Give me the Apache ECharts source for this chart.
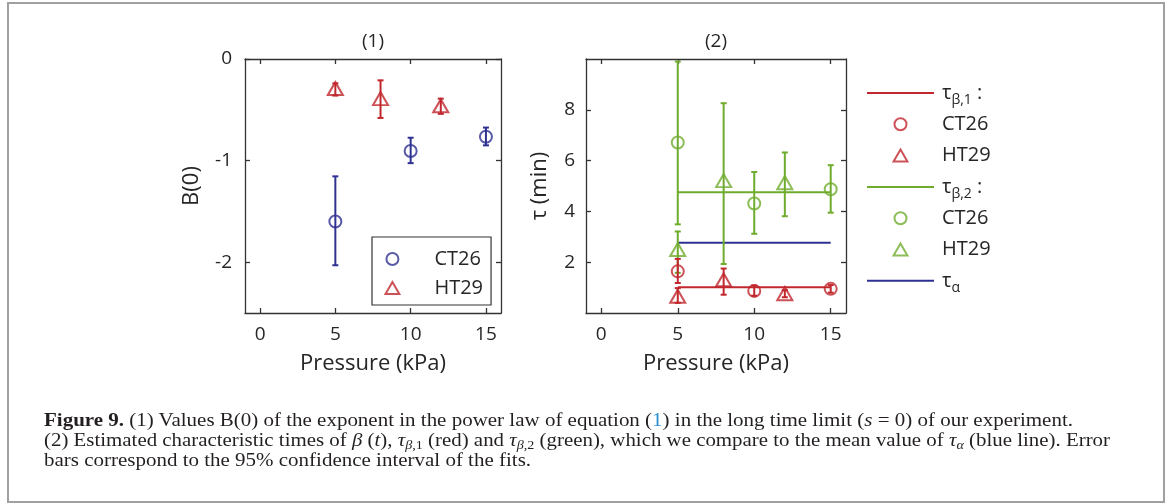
<!DOCTYPE html>
<html><head><meta charset="utf-8">
<script src="https://cdn.jsdelivr.net/npm/echarts@6/dist/echarts.min.js"></script>
<style>
html,body{margin:0;padding:0;background:#fff;width:1171px;height:504px;overflow:hidden;}
#chart{position:absolute;left:0;top:0;width:1171px;height:504px;}
#frame{position:absolute;left:7px;top:2px;width:1158px;height:501px;border:2px solid #a0a0a0;box-sizing:border-box;pointer-events:none;}
.cap{position:absolute;left:44px;white-space:nowrap;font-family:"Liberation Serif","Times New Roman",serif;font-size:18.5px;line-height:20px;color:#231f20;transform-origin:0 0;display:inline-block;}
.cap sub{font-size:12.5px;vertical-align:-3px;line-height:0}
.cap .lnk{color:#2a8fcf}
</style></head>
<body>
<div id="chart"></div>
<div id="frame"></div>
<div class="cap" id="l1" style="top:410px"><b>Figure 9.</b> (1) Values B(0) of the exponent in the power law of equation (<span class="lnk">1</span>) in the long time limit (<i>s</i> = 0) of our experiment.</div>
<div class="cap" id="l2" style="top:430px">(2) Estimated characteristic times of <i>β</i> (<i>t</i>), <i>τ</i><sub><i>β</i>,1</sub> (red) and <i>τ</i><sub><i>β</i>,2</sub> (green), which we compare to the mean value of <i>τ</i><sub><i>α</i></sub> (blue line). Error</div>
<div class="cap" id="l3" style="top:450px">bars correspond to the 95% confidence interval of the fits.</div>
<script>
// ---- data ----
const pressureCT26 = [5, 10, 15];
const pressureHT29 = [5, 8, 12];
const b0CT26 = [-1.60, -0.905, -0.765];
const b0CT26Low = [-2.03, -1.025, -0.85];
const b0CT26High = [-1.155, -0.775, -0.675];
const b0HT29 = [-0.29, -0.39, -0.46];
const b0HT29Low = [-0.36, -0.58, -0.54];
const b0HT29High = [-0.24, -0.21, -0.39];

const tauB1CT26 = [1.64, 0.87, 0.95];
const tauB1CT26Low = [1.18, 0.68, 0.80];
const tauB1CT26High = [2.13, 1.08, 1.10];
const tauB1HT29 = [0.66, 1.31, 0.76];
const tauB1HT29Low = [0.40, 0.72, 0.62];
const tauB1HT29High = [0.98, 1.75, 0.90];
const tauB2CT26 = [6.71, 4.31, 4.87];
const tauB2CT26Low = [3.49, 3.12, 3.95];
const tauB2CT26High = [9.90, 5.55, 5.82];
const tauB2HT29 = [2.50, 5.21, 5.13];
const tauB2HT29Low = [1.58, 1.93, 3.81];
const tauB2HT29High = [3.21, 8.26, 6.32];
const fitRange = [5, 15];
const tauB1Mean = 1.01;
const tauB2Mean = 4.75;
const tauAlphaMean = 2.77;

const xTicks = [0, 5, 10, 15];
const b0Ticks = [-2, -1, 0];
const tauTicks = [2, 4, 6, 8];

// ---- style ----
const RED = '#c1272d', GREEN = '#6fac2e', BLUE = '#2e3192';
const TXT = '#262626', AX = '#333333';
const FONT = '"Open Sans", "Noto Sans", sans-serif';
const LINE_ICON = 'path://M0,0 L67,0 L67,2 L0,2 Z';
const TRI_ICON = 'path://M0,13 L7.5,0 L15,13 Z';

const pts = (xs, ys) => xs.map((x, i) => [x, ys[i]]);
const bars = (xs, lo, hi) => xs.map((x, i) => [x, lo[i], hi[i]]);

function errSeries(xi, yi, data, color) {
  return {
    type: 'custom', xAxisIndex: xi, yAxisIndex: yi, data, silent: true, z: 2,
    renderItem(params, api) {
      const x = api.value(0);
      const a = api.coord([x, api.value(2)]);
      const b = api.coord([x, api.value(1)]);
      const w = 3;
      const st = { stroke: color, lineWidth: 2 };
      return { type: 'group', children: [
        { type: 'line', shape: { x1: a[0], y1: a[1], x2: b[0], y2: b[1] }, style: st },
        { type: 'line', shape: { x1: a[0] - w, y1: a[1], x2: a[0] + w, y2: a[1] }, style: st },
        { type: 'line', shape: { x1: b[0] - w, y1: b[1], x2: b[0] + w, y2: b[1] }, style: st }
      ]};
    }
  };
}
function scatter(name, xi, yi, data, color, symbol) {
  return {
    name, type: 'scatter', xAxisIndex: xi, yAxisIndex: yi, data,
    symbol: symbol === 'circle' ? 'circle' : TRI_ICON,
    symbolSize: symbol === 'circle' ? 12 : [15, 13],
    itemStyle: { color: 'none', borderColor: color, borderWidth: 2 },
    z: 3, silent: true
  };
}
function fit(name, value, color) {
  return {
    name, type: 'line', xAxisIndex: 2, yAxisIndex: 2,
    data: fitRange.map(x => [x, value]), symbol: 'none',
    lineStyle: { color, width: 2 }, itemStyle: { color }, z: 1, silent: true
  };
}
const axLine = { show: true, onZero: false, lineStyle: { color: AX, width: 1.3 } };
function tick(vals) { return { show: true, inside: true, length: 5, customValues: vals, lineStyle: { color: AX, width: 1.3 } }; }

function xBottom(grid) {
  return { type: 'value', gridIndex: grid, position: 'bottom', min: -1, max: 16,
    axisLine: axLine, axisTick: tick(xTicks), splitLine: { show: false },
    axisLabel: { customValues: xTicks, fontSize: 19, color: TXT, fontFamily: FONT, margin: 12 },
    name: 'Pressure (kPa)', nameLocation: 'middle', nameGap: 40,
    nameTextStyle: { fontSize: 22, color: TXT, fontFamily: FONT } };
}
function xTop(grid, title) {
  return { type: 'value', gridIndex: grid, position: 'top', min: -1, max: 16,
    axisLine: axLine, axisTick: tick(xTicks), splitLine: { show: false },
    axisLabel: { show: false },
    name: title, nameLocation: 'middle', nameGap: 8,
    nameTextStyle: { fontSize: 19, color: TXT, fontFamily: FONT } };
}
function yLeft(grid, min, max, ticks, name, gap, margin) {
  return { type: 'value', gridIndex: grid, position: 'left', min, max,
    axisLine: axLine, axisTick: tick(ticks), splitLine: { show: false },
    axisLabel: { customValues: ticks, fontSize: 19, color: TXT, fontFamily: FONT, margin },
    name, nameLocation: 'middle', nameGap: gap,
    nameTextStyle: { fontSize: 22, color: TXT, fontFamily: FONT } };
}
function yRight(grid, min, max, ticks) {
  return { type: 'value', gridIndex: grid, position: 'right', min, max,
    axisLine: axLine, axisTick: tick(ticks), splitLine: { show: false },
    axisLabel: { show: false } };
}

const legend2Labels = {
  tb1: '{t|τ}{s|β,1}{t| :}', ct1: 'CT26', ht1: 'HT29',
  tb2: '{t|τ}{s|β,2}{t| :}', ct2: 'CT26', ht2: 'HT29',
  ta: '{t|τ}{s|α}'
};
const legend1Labels = { b_ct: 'CT26', b_ht: 'HT29' };

const option = {
  animation: false,
  backgroundColor: 'transparent',
  grid: [
    { left: 245, top: 59, width: 256, height: 254 },
    { left: 586, top: 59, width: 260, height: 254 }
  ],
  xAxis: [xBottom(0), xTop(0, '(1)'), xBottom(1), xTop(1, '(2)')],
  yAxis: [
    yLeft(0, -2.5, 0, b0Ticks, 'B(0)', 42, 13),
    yRight(0, -2.5, 0, b0Ticks),
    yLeft(1, 0, 10, tauTicks, 'τ (min)', 35, 11),
    yRight(1, 0, 10, tauTicks)
  ],
  legend: [
    {
      data: [{ name: 'b_ct', icon: 'circle' }, { name: 'b_ht', icon: TRI_ICON }],
      orient: 'vertical', left: 372, top: 237,
      padding: [10, 8, 5, 11], itemWidth: 30, itemHeight: 12, itemGap: 5,
      selectedMode: false, borderColor: AX, borderWidth: 1.2, backgroundColor: '#fff',
      itemStyle: { borderWidth: 2 },
      formatter: n => legend1Labels[n],
      textStyle: { fontSize: 20, color: TXT, fontFamily: FONT, lineHeight: 24, width: 46, padding: [0, 0, 0, 22] }
    },
    {
      data: [
        { name: 'tb1', icon: LINE_ICON }, { name: 'ct1', icon: 'circle' }, { name: 'ht1', icon: TRI_ICON },
        { name: 'tb2', icon: LINE_ICON }, { name: 'ct2', icon: 'circle' }, { name: 'ht2', icon: TRI_ICON },
        { name: 'ta', icon: LINE_ICON }
      ],
      orient: 'vertical', left: 867, top: 79,
      padding: 0, itemWidth: 67, itemHeight: 12, itemGap: 3.3, selectedMode: false,
      formatter: n => legend2Labels[n],
      textStyle: { fontSize: 20, color: TXT, fontFamily: FONT, lineHeight: 28, padding: [0, 0, 0, 3],
        rich: {
          t: { fontSize: 20, color: TXT, fontFamily: FONT, lineHeight: 28 },
          s: { fontSize: 14, color: TXT, fontFamily: FONT, lineHeight: 14, verticalAlign: 'bottom' }
        } }
    }
  ],
  series: [
    // plot 1
    errSeries(0, 0, bars(pressureCT26, b0CT26Low, b0CT26High), BLUE),
    errSeries(0, 0, bars(pressureHT29, b0HT29Low, b0HT29High), RED),
    scatter('b_ct', 0, 0, pts(pressureCT26, b0CT26), BLUE, 'circle'),
    scatter('b_ht', 0, 0, pts(pressureHT29, b0HT29), RED, 'triangle'),
    // plot 2
    fit('tb1', tauB1Mean, RED),
    fit('tb2', tauB2Mean, GREEN),
    fit('ta', tauAlphaMean, BLUE),
    errSeries(2, 2, bars(pressureCT26, tauB2CT26Low, tauB2CT26High), GREEN),
    errSeries(2, 2, bars(pressureHT29, tauB2HT29Low, tauB2HT29High), GREEN),
    errSeries(2, 2, bars(pressureCT26, tauB1CT26Low, tauB1CT26High), RED),
    errSeries(2, 2, bars(pressureHT29, tauB1HT29Low, tauB1HT29High), RED),
    scatter('ct1', 2, 2, pts(pressureCT26, tauB1CT26), RED, 'circle'),
    scatter('ht1', 2, 2, pts(pressureHT29, tauB1HT29), RED, 'triangle'),
    scatter('ct2', 2, 2, pts(pressureCT26, tauB2CT26), GREEN, 'circle'),
    scatter('ht2', 2, 2, pts(pressureHT29, tauB2HT29), GREEN, 'triangle')
  ]
};
const chart = echarts.init(document.getElementById('chart'), null, { renderer: 'canvas' });
chart.setOption(option);

// fit caption lines: line 1 to the reference width, line 3 with the same scale, line 2 justified
const l1 = document.getElementById('l1'), l2 = document.getElementById('l2'), l3 = document.getElementById('l3');
const s = 1029 / l1.getBoundingClientRect().width;
l1.style.transform = 'scaleX(' + s + ')';
l3.style.transform = 'scaleX(' + s + ')';
l2.style.transform = 'scaleX(' + (1066 / l2.getBoundingClientRect().width) + ')';
</script>
</body></html>
